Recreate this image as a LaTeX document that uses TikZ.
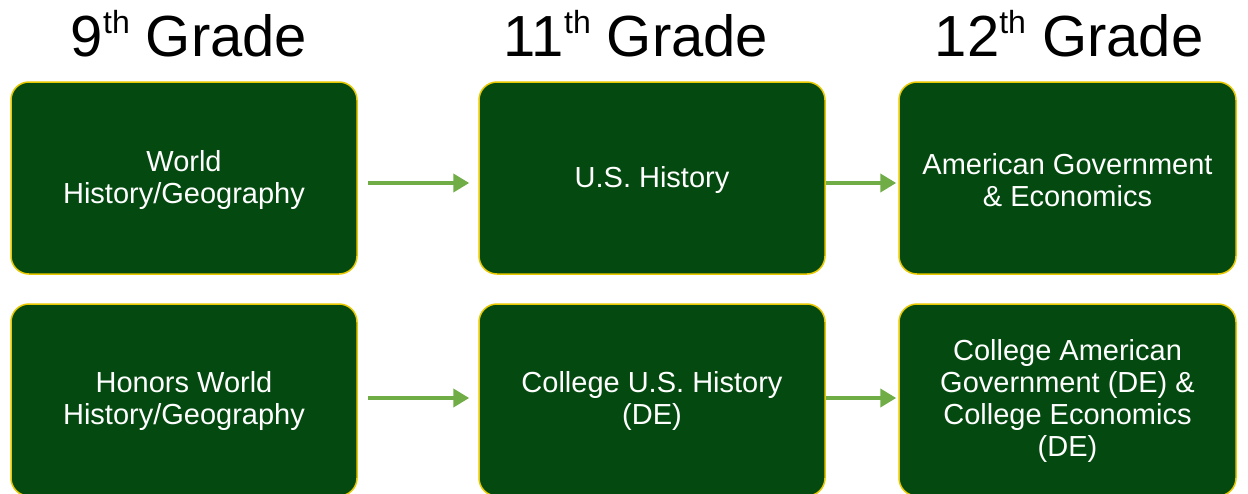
\documentclass[tikz,border=0pt]{standalone}
\usepackage{fontspec}
\setmainfont{Liberation Sans}
\usetikzlibrary{arrows.meta}
\definecolor{boxgreen}{HTML}{044A10}
\definecolor{boxedge}{HTML}{E8C800}
\definecolor{arrgreen}{HTML}{70AD47}
\newcommand{\gradesup}[1]{\raisebox{23pt}{\fontsize{32}{32}\selectfont #1}}
\tikzset{
  course/.style={draw=boxedge, line width=1.5pt, fill=boxgreen, rounded corners=18pt,
    minimum width=346pt, minimum height=192pt, text=white, align=center,
    font=\fontsize{29}{31.7}\selectfont, inner sep=0pt},
  txt/.style={text=white, align=center, font=\fontsize{29}{31.7}\selectfont, inner sep=0pt},
  header/.style={font=\fontsize{58}{60}\selectfont, anchor=base, inner sep=0pt},
  flow/.style={draw=arrgreen, line width=4pt, -{Triangle[length=16pt,width=18pt]}}
}
\begin{document}
\begin{tikzpicture}[x=1pt,y=-1pt]
\path[use as bounding box] (0,0) rectangle (1248,493);
\begin{scope}
\clip (0,0) rectangle (1248,493);
\node[course] (a1) at (184,178) {};
\node[course] (b1) at (652,178) {};
\node[course, minimum width=337pt] (c1) at (1067.5,178) {};
\node[course] (a2) at (184,400) {};
\node[course] (b2) at (652,400) {};
\node[course, minimum width=337pt] (c2) at (1067.5,400) {};
\node[txt] (ta1) at ([yshift=-2pt]a1.center) {World\\History/Geography};
\node[txt] (tb1) at ([yshift=-2pt]b1.center) {U.S. History};
\node[txt] (tc1) at ([yshift=-2pt]c1.center) {American Government\\\& Economics};
\node[txt] (ta2) at ([yshift=-1pt]a2.center) {Honors World\\History/Geography};
\node[txt] (tb2) at ([yshift=-1pt]b2.center) {College U.S. History\\(DE)};
\node[txt] (tc2) at ([yshift=-1pt]c2.center) {College American\\Government (DE) \&\\College Economics\\(DE)};
\draw[flow, shorten <=10pt, shorten >=9pt] ([yshift=-5pt]a1.east) -- ([yshift=-5pt]b1.west);
\draw[flow, shorten <=0pt, shorten >=2pt] ([yshift=-5pt]b1.east) -- ([yshift=-5pt]c1.west);
\draw[flow, shorten <=10pt, shorten >=9pt] ([yshift=2pt]a2.east) -- ([yshift=2pt]b2.west);
\draw[flow, shorten <=0pt, shorten >=2pt] ([yshift=2pt]b2.east) -- ([yshift=2pt]c2.west);
\end{scope}
\node[header] (h1) at (189,56) {9\gradesup{th} Grade};
\node[header] (h2) at (636,56) {11\gradesup{th} Grade};
\node[header] (h3) at (1069,56) {12\gradesup{th} Grade};
\end{tikzpicture}
\end{document}
